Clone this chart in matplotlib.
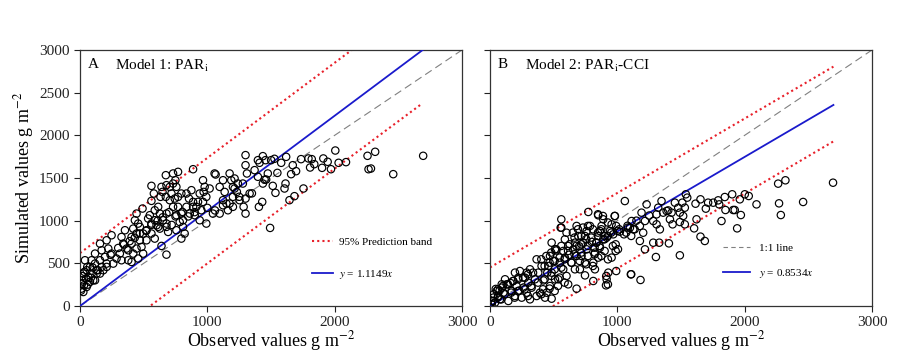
import matplotlib
matplotlib.use("Agg")
import matplotlib.pyplot as plt
from matplotlib.lines import Line2D

plt.rcParams['font.family'] = ['Liberation Serif', 'DejaVu Serif']
plt.rcParams['mathtext.fontset'] = 'stix'

# ---------------- Panel A data (Model 1: PAR_i) ----------------
a_obs = [2695, 2460, 2318, 2258, 2266, 2285, 2089, 2031, 2005, 1971, 1945, 1911, 1901,
         1840, 1807, 1820, 1794, 1736, 1697, 1658, 1671, 1619, 1580, 1755, 1684, 1645,
         1614, 1606, 1535, 1514, 1493, 1431, 1405, 1436, 1410, 1457, 1501, 1527, 1475,
         1436, 1462, 1397, 1371, 1397, 1300, 1300, 1311, 1279, 1332, 1300, 1285, 1300,
         1253, 1201, 1232, 1214, 1175, 1188, 1214, 1240, 1201, 1123, 1097, 1136, 1123,
         1123, 1162, 1175, 1201, 1097, 1044, 1057, 1018, 979, 992, 940, 966, 966, 971,
         992, 940, 901, 953, 914, 875, 836, 856, 888, 927, 888, 836, 862, 804, 770, 731,
         749, 757, 731, 705, 674, 679, 648, 674, 718, 705, 744, 770, 796, 731, 770, 796,
         757, 783, 809, 822, 796, 757, 809, 679, 627, 653, 679, 614, 679, 692, 561, 561,
         640, 632, 580, 587, 614, 548, 587, 561, 535, 601, 627, 522, 561, 587, 522, 496,
         640, 679, 491, 444, 431, 457, 470, 418, 444, 470, 483, 444, 496, 457, 405, 405,
         379, 418, 379, 405, 353, 326, 339, 366, 313, 326, 287, 261, 248, 209, 222, 248,
         196, 209, 157, 170, 131, 170, 157, 118, 91, 118, 78, 52, 91, 65, 39, 57, 26, 47,
         13, 31, 10, 52, 78, 104, 26, 118, 131, 157, 183, 209, 888, 1065, 750, 720, 15,
         20, 8, 35, 60, 85, 100, 140, 240, 300, 345, 390, 430, 470, 520, 560, 610, 650,
         700, 850, 900, 1000, 1060, 1150, 1250, 1350, 1450, 1550]
a_sim = [1760, 1545, 1807, 1760, 1603, 1611, 1686, 1678, 1822, 1603, 1690, 1729, 1619,
         1662, 1623, 1721, 1729, 1721, 1580, 1545, 1650, 1748, 1678, 1377, 1287, 1240,
         1435, 1377, 1326, 1408, 915, 1220, 1162, 1756, 1678, 1709, 1709, 1725, 1553,
         1435, 1482, 1709, 1592, 1514, 1768, 1650, 1553, 1435, 1318, 1259, 1162, 1083,
         1240, 1279, 1337, 1377, 1553, 1474, 1494, 1435, 1396, 1474, 1396, 1337, 1240,
         1181, 1122, 1201, 1162, 1083, 1083, 1553, 1377, 1396, 1279, 1318, 1220, 1474,
         1337, 966, 1005, 1064, 1122, 1162, 1357, 1318, 1259, 1220, 1220, 1162, 1162,
         1083, 1103, 1572, 1553, 1474, 1396, 1435, 1396, 1533, 1416, 1337, 1279, 1318,
         1240, 1259, 1279, 1318, 1162, 1162, 1083, 1064, 984, 1005, 849, 790, 888, 927,
         1083, 1083, 1005, 927, 927, 966, 868, 1408, 1232, 1396, 1279, 1318, 1122, 1162,
         1064, 1005, 966, 1025, 946, 907, 888, 849, 790, 770, 849, 704, 602, 1142, 1083,
         1005, 966, 927, 907, 849, 770, 692, 673, 614, 556, 809, 731, 653, 614, 536, 516,
         888, 809, 731, 673, 614, 536, 556, 497, 829, 770, 673, 614, 575, 497, 536, 458,
         419, 653, 731, 614, 536, 497, 458, 419, 380, 341, 536, 458, 380, 321, 301, 242,
         203, 223, 282, 301, 164, 301, 380, 380, 419, 458, 1603, 1541, 1050, 950, 260,
         350, 180, 400, 250, 330, 450, 420, 600, 680, 720, 760, 800, 850, 880, 950, 1000,
         1040, 1100, 1050, 1100, 1150, 1120, 1200, 1280, 1320, 1480, 1560]

# ---------------- Panel B data (Model 2: PAR_i-CCI) ----------------
b_obs = [2694, 2263, 2320, 2270, 2284, 2459, 2093, 2001, 2032, 1962, 1970, 1941, 1902,
         1910, 1922, 1844, 1849, 1818, 1792, 1753, 1800, 1695, 1713, 1653, 1614, 1622,
         1603, 1653, 1687, 1491, 1538, 1510, 1549, 1530, 1491, 1517, 1478, 1452, 1530,
         1491, 1405, 1426, 1387, 1413, 1434, 1360, 1321, 1347, 1308, 1282, 1308, 1334,
         1329, 1282, 1303, 1230, 1190, 1217, 1177, 1203, 1177, 1217, 1125, 1099, 1112,
         1052, 1020, 1106, 1182, 1059, 981, 955, 942, 916, 968, 987, 987, 955, 929, 916,
         911, 850, 889, 876, 863, 850, 889, 837, 863, 824, 850, 811, 824, 811, 772, 785,
         759, 746, 732, 759, 719, 746, 706, 746, 680, 693, 667, 654, 680, 641, 667, 680,
         560, 560, 601, 588, 614, 575, 588, 549, 575, 601, 614, 536, 484, 510, 471, 497,
         458, 484, 510, 471, 445, 484, 432, 392, 366, 405, 379, 353, 327, 366, 314, 314,
         288, 275, 301, 262, 288, 249, 235, 196, 222, 183, 209, 170, 196, 144, 118, 131,
         92, 105, 65, 78, 39, 26, 13, 52, 92, 20, 30, 45, 60, 75, 10, 160, 230, 420, 520,
         620, 700, 800, 900, 1000, 1080, 1150, 1250, 1400,
         848, 887, 979, 555, 651, 691, 730, 769, 808, 848, 874, 664, 717, 756, 795, 835,
         626, 678, 717, 769, 821, 861, 900, 926, 952, 613, 664, 717, 769, 821, 874, 900,
         586, 638, 704, 756, 808, 63, 102, 141, 181, 220, 259, 298, 338, 115, 167, 220,
         272, 324, 377, 429, 481, 89, 194, 298, 403, 508, 403, 442, 481, 520, 560, 429,
         468, 508, 547, 450, 508, 560, 416, 468, 534, 586, 547, 926, 991, 1015, 1083, 1136,
         965, 1005, 926, 991, 913, 926, 1109, 1070, 1109]
b_sim = [1445, 1434, 1473, 1203, 1066, 1219, 1191, 1309, 1289, 1250, 1066, 910, 1309,
         1125, 1125, 1277, 1125, 996, 1238, 1211, 1191, 1141, 1211, 1250, 1199, 1016,
         910, 813, 762, 594, 1309, 1211, 1270, 1152, 1094, 1055, 1152, 1211, 957, 984,
         734, 1094, 1113, 1016, 957, 1094, 1152, 1230, 1074, 996, 957, 898, 742, 742, 574,
         1191, 1094, 996, 938, 859, 762, 664, 898, 918, 996, 840, 871, 371, 305, 1230,
         1055, 957, 879, 801, 840, 723, 645, 567, 391, 313, 242, 1063, 1016, 938, 879, 820,
         781, 742, 684, 625, 567, 508, 430, 293, 1102, 938, 879, 820, 742, 664, 586, 508,
         430, 359, 938, 820, 742, 664, 586, 508, 430, 203, 1016, 918, 859, 781, 703, 645,
         567, 508, 430, 352, 254, 313, 742, 664, 586, 527, 469, 391, 313, 234, 156, 86, 98,
         156, 547, 469, 391, 313, 215, 117, 78, 430, 391, 332, 273, 215, 156, 98, 410, 391,
         332, 293, 234, 176, 117, 59, 313, 254, 215, 156, 117, 78, 39, 98, 20, 176, 254,
         60, 140, 200, 100, 180, 40, 270, 180, 300, 650, 600, 700, 750, 820, 880, 940, 1000,
         1060, 1120,
         1075, 1055, 1055, 918, 860, 899, 919, 938, 899, 860, 899, 802, 821, 782, 802, 743,
         723, 704, 723, 704, 684, 704, 782, 821, 860, 645, 606, 626, 586, 606, 586, 645,
         547, 508, 528, 489, 469, 196, 235, 254, 293, 313, 333, 372, 391, 137, 157, 176,
         196, 235, 274, 313, 352, 78, 98, 117, 137, 176, 547, 586, 626, 665, 704, 469,
         508, 528, 567, 391, 430, 450, 196, 204, 235, 274, 333, 978, 938, 899, 919, 899,
         704, 665, 547, 410, 352, 254, 372, 860, 821]

# regression / band lines
a_fit_slope = 1.1149
a_band_x = [0, 2690]
a_band_up = [620, 3620]
a_band_lo = [-612, 2376]
b_fit_x = [0, 2697]
b_fit_y = [0, 2356]
b_band_x = [0, 2697]
b_band_up = [452, 2805]
b_band_lo = [-436, 1929]
one_x = [0, 3000]

ticks = [0, 500, 1000, 1500, 2000, 2500, 3000]
xticks = [0, 1000, 2000, 3000]

fig = plt.figure(figsize=(9, 3.61), dpi=100)
axA = fig.add_axes([80/900, 1-306/361, 382/900, 256/361])
axB = fig.add_axes([490/900, 1-306/361, 382/900, 256/361])

red = '#e8202a'
blue = '#1a1acc'
grey = '#808080'
dot = (0, (1, 1.5))

def style(ax):
    ax.set_xlim(0, 3000)
    ax.set_ylim(0, 3000)
    ax.set_xticks(xticks)
    ax.set_yticks(ticks)
    ax.tick_params(direction='out', length=4, width=0.8, labelsize=11, colors='#222222')
    for s in ax.spines.values():
        s.set_linewidth(0.9)
        s.set_color('#333333')
    ax.set_xlabel('Observed values g m$^{-2}$', fontsize=13, labelpad=0)

# Panel A
axA.plot(one_x, one_x, color=grey, lw=0.8, dashes=(7, 4), zorder=2)
axA.plot(a_band_x, a_band_up, color=red, lw=1.5, ls=dot, zorder=2)
axA.plot(a_band_x, a_band_lo, color=red, lw=1.5, ls=dot, zorder=2)
axA.plot(one_x, [a_fit_slope * v for v in one_x], color=blue, lw=1.3, zorder=3)
axA.scatter(a_obs, a_sim, s=28, facecolors='none', edgecolors='black', linewidths=0.85, zorder=4)
style(axA)
axA.set_ylabel('Simulated values g m$^{-2}$', fontsize=13, labelpad=2)
axA.text(0.02, 0.97, 'A', transform=axA.transAxes, fontsize=11, va='top')
axA.text(0.092, 0.97, 'Model 1: PAR$_{\\mathrm{i}}$', transform=axA.transAxes, fontsize=11, va='top')
hA = [Line2D([], [], color=red, lw=1.5, ls=dot),
      Line2D([], [], color=blue, lw=1.3)]
axA.legend(hA, ['95% Prediction band', '$y$ = 1.1149$x$'], loc='upper left',
           bbox_to_anchor=(0.607, 0.268), frameon=False, fontsize=8, labelspacing=1.9,
           handlelength=1.9, handletextpad=0.5, borderaxespad=0, borderpad=0)

# Panel B
axB.plot(one_x, one_x, color=grey, lw=0.8, dashes=(7, 4), zorder=2)
axB.plot(b_band_x, b_band_up, color=red, lw=1.5, ls=dot, zorder=2)
axB.plot(b_band_x, b_band_lo, color=red, lw=1.5, ls=dot, zorder=2)
axB.plot(b_fit_x, b_fit_y, color=blue, lw=1.3, zorder=3)
axB.scatter(b_obs, b_sim, s=28, facecolors='none', edgecolors='black', linewidths=0.85, zorder=4)
style(axB)
axB.set_yticklabels([])
axB.text(0.02, 0.97, 'B', transform=axB.transAxes, fontsize=11, va='top')
axB.text(0.092, 0.97, 'Model 2: PAR$_{\\mathrm{i}}$-CCI', transform=axB.transAxes, fontsize=11, va='top')
hB = [Line2D([], [], color=grey, lw=0.8, dashes=(4, 3)),
      Line2D([], [], color=blue, lw=1.3)]
axB.legend(hB, ['1:1 line', '$y$ = 0.8534$x$'], loc='upper left',
           bbox_to_anchor=(0.61, 0.245), frameon=False, fontsize=8, labelspacing=1.25,
           handlelength=2.4, handletextpad=0.8, borderaxespad=0, borderpad=0)

fig.savefig('out.png', dpi=100)
